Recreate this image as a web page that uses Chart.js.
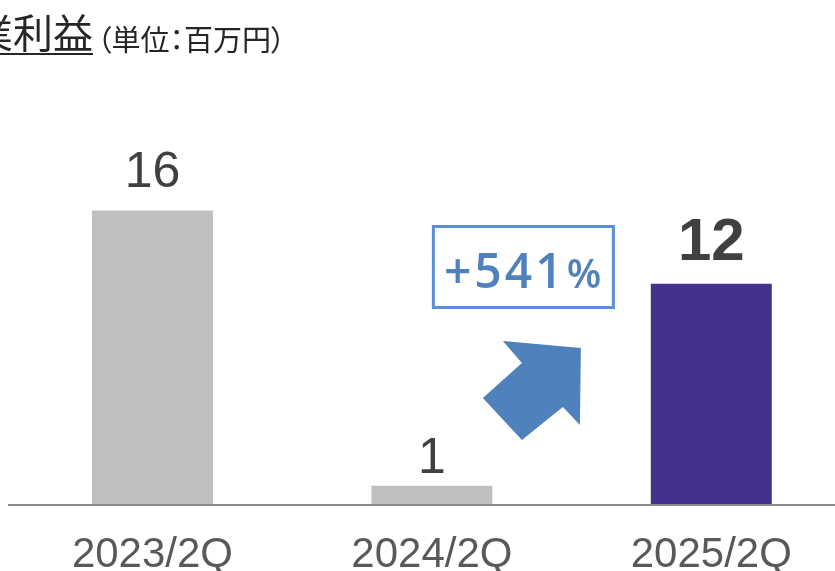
<!DOCTYPE html>
<html>
<head>
<meta charset="utf-8">
<script src="https://cdn.jsdelivr.net/npm/chart.js@4/dist/chart.umd.min.js"></script>
<style>
    body { margin: 0; background: #fff; overflow: hidden; }
    #wrap { position: relative; width: 835px; height: 571px; overflow: hidden; }
    #chart { position: absolute; left: 0; top: 0; }
    .title { position: absolute; left: -67px; top: 8px; font-family: "Noto Sans CJK JP"; font-size: 40px;
             line-height: 46px; color: #262626; white-space: nowrap; text-decoration: underline;
             text-decoration-thickness: 2px; text-underline-offset: 5px; }
    .unit { position: absolute; left: 97px; top: 21px; font-family: "Noto Sans CJK JP"; font-size: 29px;
            line-height: 34px; color: #262626; white-space: nowrap; font-feature-settings: "palt"; }
</style>
</head>
<body>
<div id="wrap">
    <canvas id="chart" width="860" height="571"></canvas>
    <div class="title">営業利益</div>
    <div class="unit">（単位：百万円）</div>
</div>
<script>
const periods = ["2023/2Q", "2024/2Q", "2025/2Q"];
const profit = [16, 1, 12];
const barColors = ["#bfbfbf", "#bfbfbf", "#43318c"];
const growthLabel = "+541";

// value labels above the bars
const valueLabels = {
    id: "valueLabels",
    afterDatasetsDraw(chart) {
        const ctx = chart.ctx;
        const gaps = [23, 13, 24];
        ctx.save();
        ctx.fillStyle = "#404040";
        ctx.textAlign = "center";
        ctx.textBaseline = "alphabetic";
        chart.getDatasetMeta(0).data.forEach((bar, i) => {
            const last = i === profit.length - 1;
            ctx.font = last ? "bold 60px 'Liberation Sans', Arial" : "50px 'Liberation Sans', Arial";
            ctx.fillText(profit[i], bar.x, bar.y - gaps[i]);
        });
        ctx.restore();
    }
};

// baseline, growth box and arrow
const extras = {
    id: "extras",
    afterDraw(chart) {
        const ctx = chart.ctx;
        const x1 = chart.scales.x.getPixelForValue(1);
        const y0 = chart.scales.y.getPixelForValue(0);
        ctx.save();

        ctx.strokeStyle = "#8c8c8c";
        ctx.lineWidth = 2;
        ctx.beginPath();
        ctx.moveTo(8, y0 + 1);
        ctx.lineTo(835, y0 + 1);
        ctx.stroke();

        ctx.strokeStyle = "#5b8fd5";
        ctx.lineWidth = 3;
        ctx.strokeRect(x1 + 1.5, y0 - 277.5, 180, 81);

        ctx.fillStyle = "#4f81bd";
        ctx.textAlign = "left";
        ctx.textBaseline = "alphabetic";
        ctx.letterSpacing = "3px";
        ctx.font = "600 48px 'Open Sans'";
        ctx.fillText(growthLabel, x1 + 12, y0 - 216);
        const w = ctx.measureText(growthLabel).width;
        ctx.letterSpacing = "0px";
        ctx.font = "600 40px 'Open Sans'";
        ctx.fillText("%", x1 + 12 + w + 1, y0 - 216);

        const pts = [[71, -163], [149, -156], [148, -79], [131, -97], [90, -64], [51, -106], [90, -141]];
        ctx.beginPath();
        pts.forEach(([dx, dy], i) => {
            if (i === 0) ctx.moveTo(x1 + dx, y0 + dy);
            else ctx.lineTo(x1 + dx, y0 + dy);
        });
        ctx.closePath();
        ctx.fill();
        ctx.restore();
    }
};

new Chart(document.getElementById("chart"), {
    type: "bar",
    data: {
        labels: periods,
        datasets: [
            {
                data: profit,
                backgroundColor: barColors,
                categoryPercentage: 1,
                barPercentage: 0.433,
            }
        ],
    },
    options: {
        responsive: false,
        animation: false,
        layout: { padding: { left: 12.75, right: 9, top: 137, bottom: 0 } },
        plugins: { legend: { display: false }, tooltip: { enabled: false } },
        scales: {
            x: {
                grid: { display: false, drawTicks: false },
                border: { display: false },
                ticks: { color: "#595959", font: { family: "'Liberation Sans', Arial", size: 42 }, padding: 26 },
                afterFit(scale) { scale.height = 67; },
            },
            y: { display: false, min: 0, max: 20 },
        },
    },
    plugins: [valueLabels, extras],
});
</script>
</body>
</html>
